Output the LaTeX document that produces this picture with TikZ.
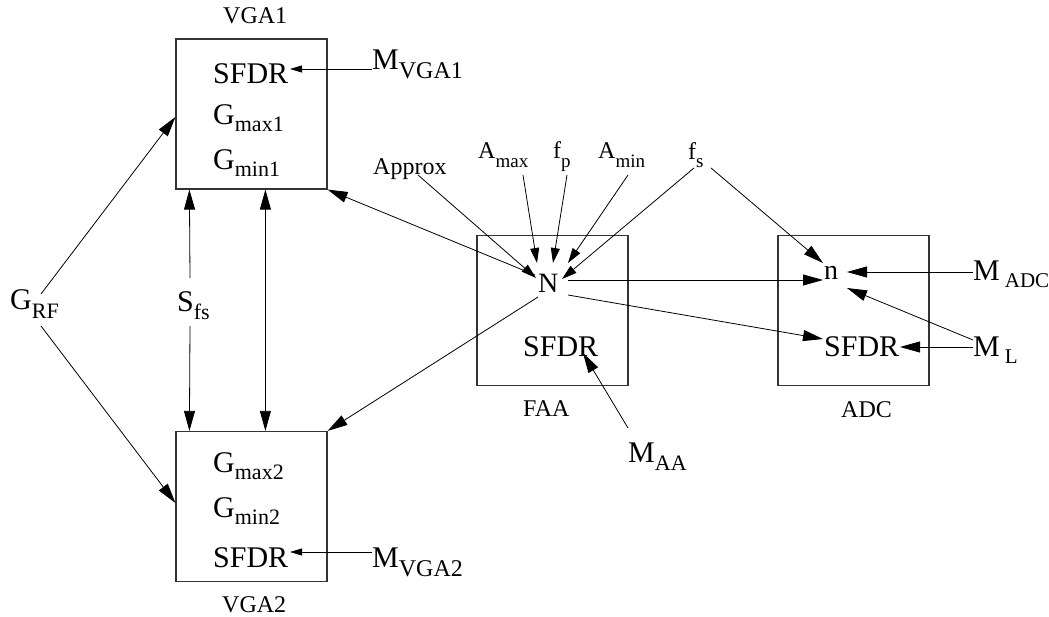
\documentclass[tikz,border=0pt]{standalone}
\usepackage{fontspec}
\setmainfont{Liberation Serif}
\usetikzlibrary{arrows.meta}
\newcommand\lowsub[3]{\raisebox{-#1pt}{\fontsize{#2}{#2}\selectfont #3}}
\begin{document}
\begin{tikzpicture}[x=1pt,y=-1pt,
  txt/.style={anchor=base west, inner sep=0pt, font=\fontsize{30}{36}\selectfont},
  midtxt/.style={anchor=base west, inner sep=0pt, font=\fontsize{28}{34}\selectfont},
  lbl/.style={anchor=base west, inner sep=0pt, font=\fontsize{24}{28}\selectfont},
  box/.style={draw=black!80, line width=1.2pt, minimum width=151pt, minimum height=150pt, inner sep=0pt},
  conn/.style={line width=0.8pt, -{Triangle[length=20pt,width=11pt]}},
  connin/.style={line width=0.8pt, -{Triangle[length=15pt,width=9pt]}},
  conn2/.style={line width=0.8pt, {Triangle[length=20pt,width=11pt]}-{Triangle[length=20pt,width=11pt]}},
  connsm/.style={line width=0.8pt, -{Triangle[length=12pt,width=7pt]}},
  plain/.style={line width=0.8pt}
]
\useasboundingbox (0,0) rectangle (1049,617);

% boxes
\node[box] (vga1) at (251.5,114) {};
\node[box] (vga2) at (251.5,506.5) {};
\node[box] (faa) at (552.5,310.5) {};
\node[box] (adc) at (853.5,310.5) {};

% box labels
\node[lbl] (vga1lbl) at (223,24) {VGA1};
\node[lbl] (vga2lbl) at (222,612) {VGA2};
\node[lbl] (faalbl) at (523,416) {FAA};
\node[lbl] (adclbl) at (841,417) {ADC};

% VGA1 content
\node[txt] (s1) at (213,84) {SFDR};
\node[txt] (gx1) at (213,125) {G\lowsub{7}{22}{max1}};
\node[txt] (gn1) at (213,170) {G\lowsub{7}{22}{min1}};
% VGA2 content
\node[txt] (gx2) at (213,472) {G\lowsub{7}{22}{max2}};
\node[txt] (gn2) at (213,517) {G\lowsub{7}{22}{min2}};
\node[txt] (s2) at (213,567) {SFDR};

\node[txt] (mv1) at (372,70) {M\lowsub{9}{24}{VGA1}};
\node[txt] (mv2) at (372,567) {M\lowsub{9}{24}{VGA2}};
\node[txt] (grf) at (10,310) {G\lowsub{9}{22}{RF}};
\node[txt] (sfs) at (177,312) {S\lowsub{8}{22}{fs}};

% FAA
\node[midtxt] (N) at (538,293) {N};
\node[txt] (sfaa) at (523,356) {SFDR};
\node[txt] (maa) at (628,462) {M\lowsub{8}{22}{AA}};

% ADC
\node[midtxt] (n) at (824,280) {n};
\node[txt] (sadc) at (824,356) {SFDR};
\node[txt] (madc) at (973,281) {M\,\lowsub{7}{21}{ADC}};
\node[txt] (ml) at (973,356) {M\,\lowsub{7}{21}{L}};

% filter parameters
\node[lbl] (approx) at (373,175) {Approx};
\node[lbl] (amax) at (478,159) {A\lowsub{9}{19}{max}};
\node[lbl] (fp) at (553,159) {f\lowsub{9}{19}{p}};
\node[lbl] (amin) at (598,159) {A\lowsub{9}{19}{min}};
\node[lbl] (fs) at (688,160) {f\lowsub{8}{19}{s}};

% connectors VGA
\draw[connsm] ([shift={(0,-1)}]mv1.base west) -- ([shift={(77,-15)}]s1.base west);
\draw[connsm] ([shift={(0,-15)}]mv2.base west) -- ([shift={(77,-15)}]s2.base west);
\draw[conn] ([shift={(31,-16)}]grf.base west) -- ([shift={(0,3)}]vga1.west);
\draw[conn] ([shift={(31,16)}]grf.base west) -- ([shift={(0,-3.5)}]vga2.west);
\draw[conn] ([shift={(13,-34)}]sfs.base west) -- ([shift={(14,0)}]vga1.south west);
\draw[conn] ([shift={(13,14)}]sfs.base west) -- ([shift={(14,0)}]vga2.north west);
\draw[conn2] ([shift={(90,0)}]vga1.south west) -- ([shift={(90,0)}]vga2.north west);

% connectors from N
\draw[conn] ([shift={(-3,-18)}]N.base west) -- (vga1.south east);
\draw[conn] ([shift={(0,4)}]N.base west) -- (vga2.north east);
\draw[conn] ([shift={(30,-13)}]N.base west) -- ([shift={(-1,0)}]n.base west);
\draw[conn] ([shift={(30,2)}]N.base west) -- ([shift={(-1,-17)}]sadc.base west);

% connectors into N
\draw[connin] ([shift={(45,0)}]approx.base west) -- ([shift={(-2,-15)}]N.base west);
\draw[connin] ([shift={(45,16)}]amax.base west) -- ([shift={(-1,-30)}]N.base west);
\draw[connin] ([shift={(14,16)}]fp.base west) -- ([shift={(15,-30)}]N.base west);
\draw[connin] ([shift={(30,16)}]amin.base west) -- ([shift={(30,-30)}]N.base west);
\draw[connin] ([shift={(6,8)}]fs.base west) -- ([shift={(24,-14)}]N.base west);
\draw[conn] ([shift={(23,8)}]fs.base west) -- ([shift={(-1,-17)}]n.base west);

% other
\draw[conn] ([shift={(0,-34)}]maa.base west) -- ([shift={(60,-3)}]sfaa.base west);
\draw[conn] ([shift={(0,-9)}]madc.base west) -- ([shift={(23,-8)}]n.base west);
\draw[conn] ([shift={(0,-9)}]ml.base west) -- ([shift={(76,-9)}]sadc.base west);
\draw[conn] ([shift={(0,-16)}]ml.base west) -- ([shift={(23,8)}]n.base west);
\end{tikzpicture}
\end{document}
